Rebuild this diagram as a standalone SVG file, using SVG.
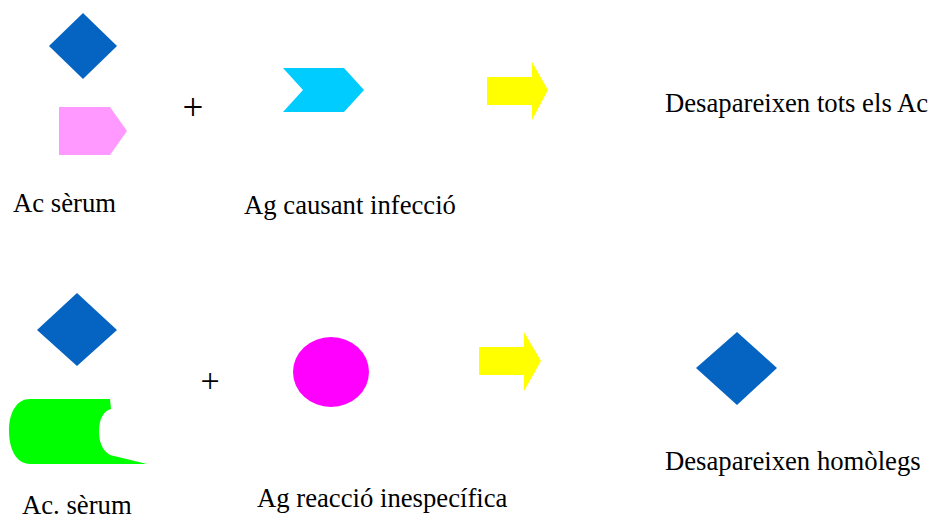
<svg xmlns="http://www.w3.org/2000/svg" width="930" height="516" viewBox="0 0 930 516">
<style>
.lbl{font-family:"Liberation Serif","Times New Roman",serif;font-size:26.7px;fill:#000}
.plus{font-family:"Liberation Serif","Times New Roman",serif;fill:#000;text-anchor:middle}
.blue{fill:#0563C1}
.yellow{fill:#FFFF00}
</style>
<rect width="930" height="516" fill="#fff"/>
<g id="row1-ac-diamond"><polygon class="blue" points="83,13 117,46 83,79 49,46"/></g>
<g id="row1-ac-pentagon"><polygon fill="#FF99FF" points="59,107 110,107 127,131 110,155 59,155"/></g>
<g id="row1-plus"><text class="plus" x="193" y="120" font-size="37">+</text></g>
<g id="row1-ag-chevron"><polygon fill="#00CCFF" points="283,68 344,68 364,90 344,112 283,112 303,90"/></g>
<g id="row1-result"><text class="lbl" x="665" y="112">Desapareixen tots els Ac</text></g>
<g id="row1-labels">
<text class="lbl" x="13" y="212">Ac sèrum</text>
<text class="lbl" x="244" y="214">Ag causant infecció</text>
</g>
<g id="row2-ac-diamond"><polygon class="blue" points="77,293 117,330 77,366 37,330"/></g>
<g id="row2-ac-green"><path fill="#00FF00" d="M30,399 H110 L111,409 C103,411 99,420 99,431 C99,442 102,450 110,455 L147,464 H30 C17,464 9,450 9,431 C9,412 17,399 30,399 Z"/></g>
<g id="row2-plus"><text class="plus" x="210" y="392" font-size="34">+</text></g>
<g id="row2-ag-circle"><ellipse fill="#FF00FF" cx="331" cy="372" rx="38" ry="35"/></g>
<g id="row2-result-diamond"><polygon class="blue" points="737,332 777,368 737,405 696,368"/></g>
<g id="row2-labels">
<text class="lbl" x="22" y="514">Ac. sèrum</text>
<text class="lbl" x="257" y="507">Ag reacció inespecífica</text>
<text class="lbl" x="665" y="470">Desapareixen homòlegs</text>
</g>
<g id="connectors">
<polygon class="yellow" points="487,77 532,77 532,62 548,90 532,120 532,105 487,105"/>
<polygon class="yellow" points="479,347 524,347 524,332 541,361 524,391 524,375 479,375"/>
</g>
</svg>
